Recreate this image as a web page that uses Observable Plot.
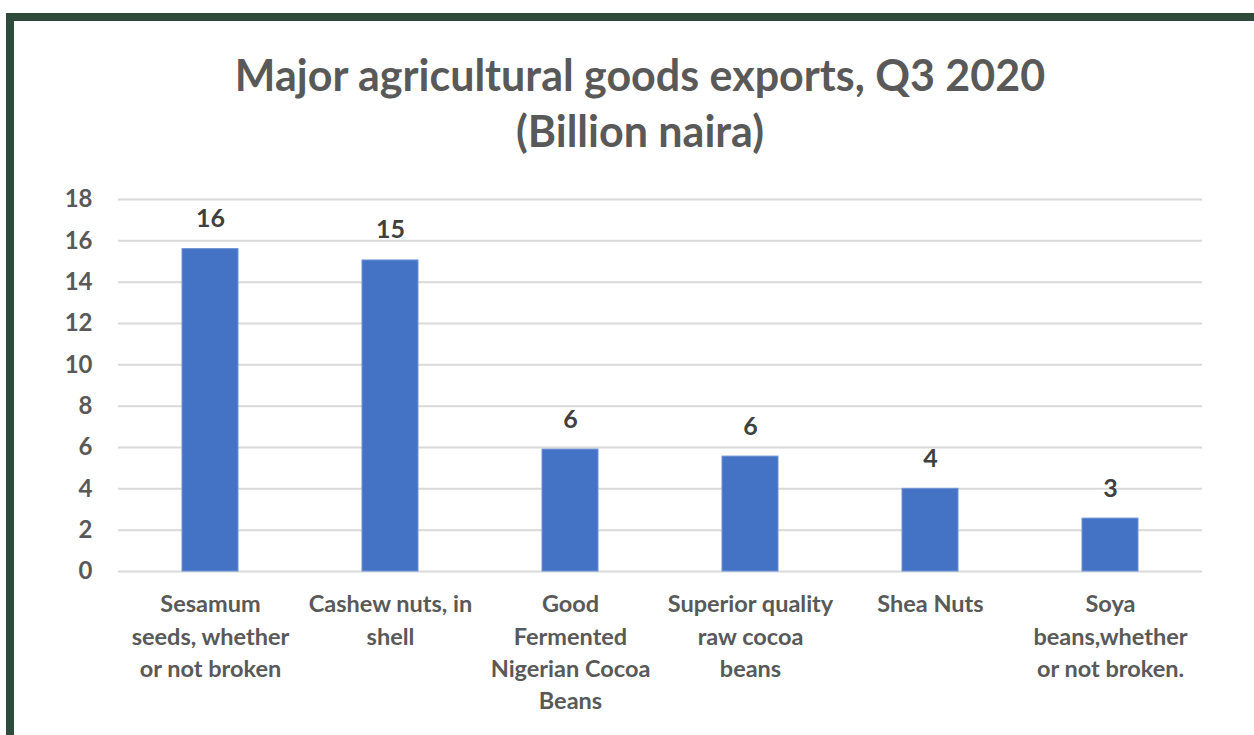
<!DOCTYPE html>
<html>
<head>
<meta charset="utf-8">
<script src="https://cdn.jsdelivr.net/npm/d3@7"></script>
<script src="https://cdn.jsdelivr.net/npm/@observablehq/plot@0.6"></script>
<style>
  html, body { margin: 0; padding: 0; background: #fff; width: 1254px; height: 735px; overflow: hidden; }
  #frame { position: absolute; left: 6px; top: 13px; width: 1300px; height: 800px;
           border-left: 8px solid #2E4B3B; border-top: 8px solid #2E4B3B; box-sizing: border-box; }
  #title { position: absolute; left: 0; width: 1280px; top: 47px; text-align: center;
           font-family: Lato, sans-serif; font-weight: 700; font-size: 43px; line-height: 56px; color: #595959; }
  #chart { position: absolute; left: 0; top: 180px; }
</style>
</head>
<body>
<div id="frame"></div>
<div id="title">Major agricultural goods exports, Q3 2020<br>(Billion naira)</div>
<div id="chart"></div>
<script>
const categories = [
  "Sesamum seeds, whether or not broken",
  "Cashew nuts, in shell",
  "Good Fermented Nigerian Cocoa Beans",
  "Superior quality raw cocoa beans",
  "Shea Nuts",
  "Soya beans,whether or not broken."
];
const tickLabels = [
  "Sesamum\nseeds, whether\nor not broken",
  "Cashew nuts, in\nshell",
  "Good\nFermented\nNigerian Cocoa\nBeans",
  "Superior quality\nraw cocoa\nbeans",
  "Shea Nuts",
  "Soya\nbeans,whether\nor not broken."
];
const values = [15.6, 15.05, 5.9, 5.56, 4.0, 2.56];
const valueLabels = ["16", "15", "6", "6", "4", "3"];
const yTicks = [0, 2, 4, 6, 8, 10, 12, 14, 16, 18];

const data = categories.map((c, i) => ({category: c, value: values[i], label: valueLabels[i]}));
const tickMap = new Map(categories.map((c, i) => [c, tickLabels[i]]));

const chart = Plot.plot({
  width: 1254,
  height: 555,
  marginLeft: 118,
  marginRight: 52,
  marginTop: 19,
  marginBottom: 164,
  style: {fontFamily: "Lato, sans-serif", fontWeight: 700, color: "#595959", background: "transparent"},
  x: {domain: categories, paddingInner: 0.69, paddingOuter: 0.345, label: null},
  y: {domain: [0, 18], ticks: yTicks, label: null},
  marks: [
    Plot.gridY(yTicks, {stroke: "#D9D9D9", strokeOpacity: 1, strokeWidth: 2}),
    Plot.barY(data, {x: "category", y: "value", fill: "#4472C4", stroke: "#6E93D6", strokeWidth: 1}),
    Plot.axisY(yTicks, {tickSize: 0, tickPadding: 26, fontSize: 24, fill: "#595959", fontWeight: 700}),
    Plot.axisX({tickSize: 0, tickPadding: 18, fontSize: 23.5, lineHeight: 1.37, fill: "#595959", fontWeight: 700,
                tickFormat: d => tickMap.get(d)}),
    Plot.text(data, {x: "category", y: "value", text: "label", dy: -22, lineAnchor: "bottom",
                     fontSize: 25, fontWeight: 700, fill: "#404040"})
  ]
});
document.getElementById("chart").appendChild(chart);
</script>
</body>
</html>
